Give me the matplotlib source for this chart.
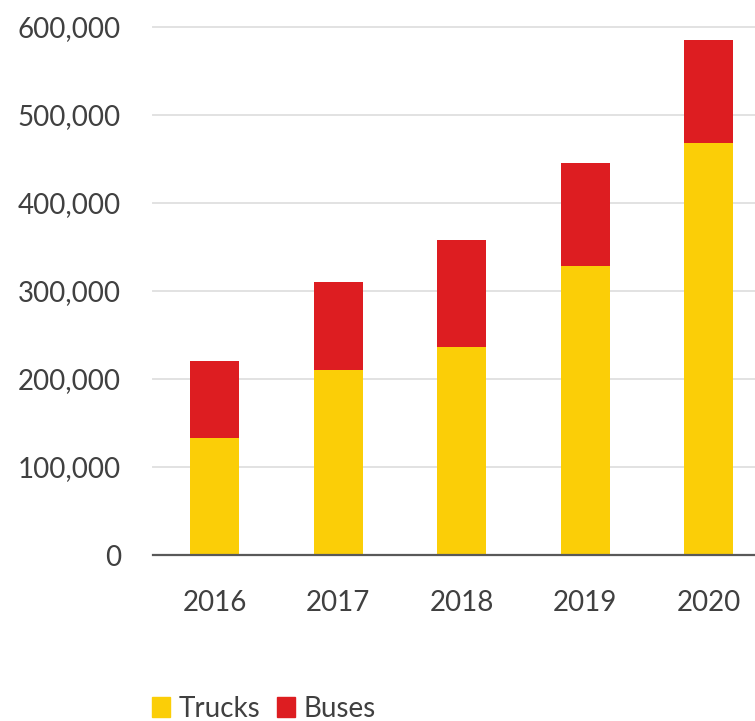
import matplotlib
matplotlib.use("Agg")
import matplotlib.pyplot as plt
from matplotlib.patches import Patch
from matplotlib.ticker import FuncFormatter

years = ["2016", "2017", "2018", "2019", "2020"]
trucks = [133000, 210000, 236000, 328000, 468000]
buses = [87000, 100000, 122000, 117000, 117000]
y_ticks = [0, 100000, 200000, 300000, 400000, 500000, 600000]

YELLOW = "#FBCE07"
RED = "#DD1D21"
TXT = "#404040"

plt.rcParams["font.family"] = ["Lato", "DejaVu Sans"]

W, H = 755, 721
fig = plt.figure(figsize=(W / 100, H / 100), dpi=100)
ax = fig.add_axes([153 / W, (H - 555) / H, (W - 153) / W, (555 - 27) / H])

x = list(range(len(years)))
ax.bar(x, trucks, width=0.4, color=YELLOW, zorder=3, label="Trucks")
ax.bar(x, buses, width=0.4, bottom=trucks, color=RED, zorder=3, label="Buses")

ax.set_xlim(-0.5, -0.5 + (W - 153) / 123.5)
ax.set_ylim(0, 600000)
ax.set_yticks(y_ticks)
ax.yaxis.set_major_formatter(FuncFormatter(lambda v, p: f"{int(v):,}"))
ax.set_xticks(x)
ax.set_xticklabels(years)

for s in ["top", "right", "left"]:
    ax.spines[s].set_visible(False)
ax.spines["bottom"].set_color("#595959")
ax.spines["bottom"].set_linewidth(1.6)
ax.spines["bottom"].set_zorder(4)

ax.grid(axis="y", color="#e2e2e2", linewidth=1.4, zorder=0)
ax.set_axisbelow(True)
for gl in ax.yaxis.get_gridlines():
    gl.set_clip_on(False)

ax.tick_params(axis="y", length=0, pad=23, labelsize=20, labelcolor=TXT)
ax.tick_params(axis="x", length=0, pad=25, labelsize=20, labelcolor=TXT)

handles = [Patch(color=YELLOW, label="Trucks"), Patch(color=RED, label="Buses")]
fig.legend(handles=handles, loc="upper left", bbox_to_anchor=(152 / W, 1 - 696 / H),
           ncol=2, frameon=False, fontsize=20, labelcolor=TXT,
           handlelength=0.65, handleheight=0.75, handletextpad=0.3,
           columnspacing=0.6, borderpad=0, borderaxespad=0)

fig.savefig("out.png", dpi=100)
